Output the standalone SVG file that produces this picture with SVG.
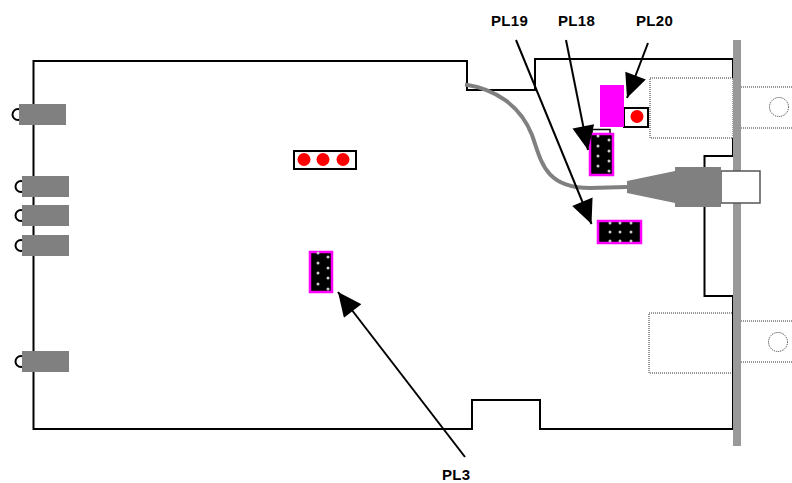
<svg xmlns="http://www.w3.org/2000/svg" width="792" height="483" viewBox="0 0 792 483">
<style>
text{font-family:"Liberation Sans",Arial,sans-serif;font-size:15px;font-weight:bold;letter-spacing:.3px;fill:#000}
.board{fill:none;stroke:#000;stroke-width:2}
.dot{fill:#fff;stroke:#333;stroke-width:1;stroke-dasharray:1 1}
.port{fill:#808080}
.ring{fill:#fff;stroke:#000;stroke-width:2}
.hdr{fill:#000;stroke:#f0f;stroke-width:2.500}
.box{fill:#fff;stroke:#000;stroke-width:2}
.red{fill:#f00}
.pin{fill:#ccc}
.lead{fill:none;stroke:#000;stroke-width:2;marker-end:url(#ah)}
</style>
<defs>
<marker id="ah" markerUnits="userSpaceOnUse" markerWidth="26" markerHeight="22" refX="25" refY="11" orient="auto"><path d="M1 0L25 11L1 22z" fill="#000"/></marker>
</defs>
<rect width="792" height="483" fill="#fff"/>
<g id="dotted-parts">
<rect class="dot" x="650" y="78" width="83" height="60"/>
<rect class="dot" x="649" y="313" width="84" height="60"/>
<path class="dot" fill="none" d="M741 87H792M741 128H792M741 321H792M741 362H792"/>
<circle class="dot" cx="779" cy="107" r="9.5"/>
<circle class="dot" cx="778" cy="342" r="9.5"/>
</g>
<g id="board"><path class="board" d="M733 78V59H535V90H467V61H33.500V429H472V400H540V429H733V296H704.500V156H733V138"/></g>
<g id="panel"><rect x="733" y="40" width="8" height="406" fill="#999"/></g>
<g id="left-ports">
<circle class="ring" cx="18" cy="114.500" r="5.500"/><rect class="port" x="19" y="104" width="47" height="21"/>
<circle class="ring" cx="21" cy="186.500" r="5.500"/><rect class="port" x="22" y="176" width="47" height="21"/>
<circle class="ring" cx="21" cy="215.500" r="5.500"/><rect class="port" x="22" y="205" width="47" height="21"/>
<circle class="ring" cx="21" cy="245.500" r="5.500"/><rect class="port" x="22" y="235" width="47" height="21"/>
<circle class="ring" cx="21" cy="361.500" r="5.500"/><rect class="port" x="22" y="351" width="47" height="21"/>
</g>
<g id="red-header">
<rect class="box" x="294" y="151" width="62" height="18"/>
<circle class="red" cx="304" cy="159.500" r="6.500"/><circle class="red" cx="323" cy="159.500" r="6.500"/><circle class="red" cx="343" cy="159.500" r="6.500"/>
</g>
<g id="PL3-header">
<rect class="hdr" x="310" y="252" width="22" height="40"/>
<g class="pin"><circle cx="318" cy="253" r="1.500"/><circle cx="328" cy="257" r="1.500"/><circle cx="318" cy="263" r="1.500"/><circle cx="328" cy="268" r="1.500"/><circle cx="318" cy="273" r="1.500"/><circle cx="328" cy="278" r="1.500"/><circle cx="318" cy="284" r="1.500"/><circle cx="328" cy="289" r="1.500"/></g>
</g>
<g id="PL20-header">
<rect class="box" x="624" y="108" width="24" height="19"/>
<rect x="600" y="85" width="24" height="42" fill="#f0f"/>
<circle class="red" cx="637" cy="116.500" r="6.500"/>
</g>
<g id="PL18-header">
<rect x="592" y="129.500" width="18" height="5" fill="#fff" stroke="#000" stroke-width="1.500"/>
<rect class="hdr" x="590" y="134" width="23" height="41"/>
<g class="pin"><circle cx="598" cy="136" r="1.500"/><circle cx="609" cy="140" r="1.500"/><circle cx="598" cy="146" r="1.500"/><circle cx="609" cy="151" r="1.500"/><circle cx="598" cy="156" r="1.500"/><circle cx="609" cy="161" r="1.500"/><circle cx="598" cy="166" r="1.500"/><circle cx="609" cy="171" r="1.500"/></g>
</g>
<g id="PL19-header">
<rect class="hdr" x="598" y="221" width="43" height="22"/>
<g class="pin"><circle cx="610" cy="223" r="1.500"/><circle cx="620" cy="223" r="1.500"/><circle cx="631" cy="223" r="1.500"/><circle cx="610" cy="232" r="1.500"/><circle cx="620" cy="232" r="1.500"/><circle cx="631" cy="232" r="1.500"/><circle cx="610" cy="241" r="1.500"/><circle cx="620" cy="241" r="1.500"/><circle cx="631" cy="241" r="1.500"/></g>
</g>
<g id="cable-connector">
<path d="M465 84.500C495 89 520 105 532 135C541 160 544 188 590 188L627 187" fill="none" stroke="#808080" stroke-width="4"/>
<rect x="721" y="171" width="39" height="32" fill="#fff" stroke="#555" stroke-width="1.500"/>
<path d="M627 181L675 171V167H721V207H675V203L627 193Z" fill="#808080"/>
</g>
<g id="connectors">
<path class="lead" d="M516 40L591.500 224"/>
<path class="lead" d="M566 40L588 150"/>
<path class="lead" d="M648 43L627 98"/>
<path class="lead" d="M465 457L338 292"/>
</g>
<g id="labels">
<text x="491" y="25.500">PL19</text>
<text x="558" y="25.500">PL18</text>
<text x="636" y="25.500">PL20</text>
<text x="442" y="480">PL3</text>
</g>
</svg>
